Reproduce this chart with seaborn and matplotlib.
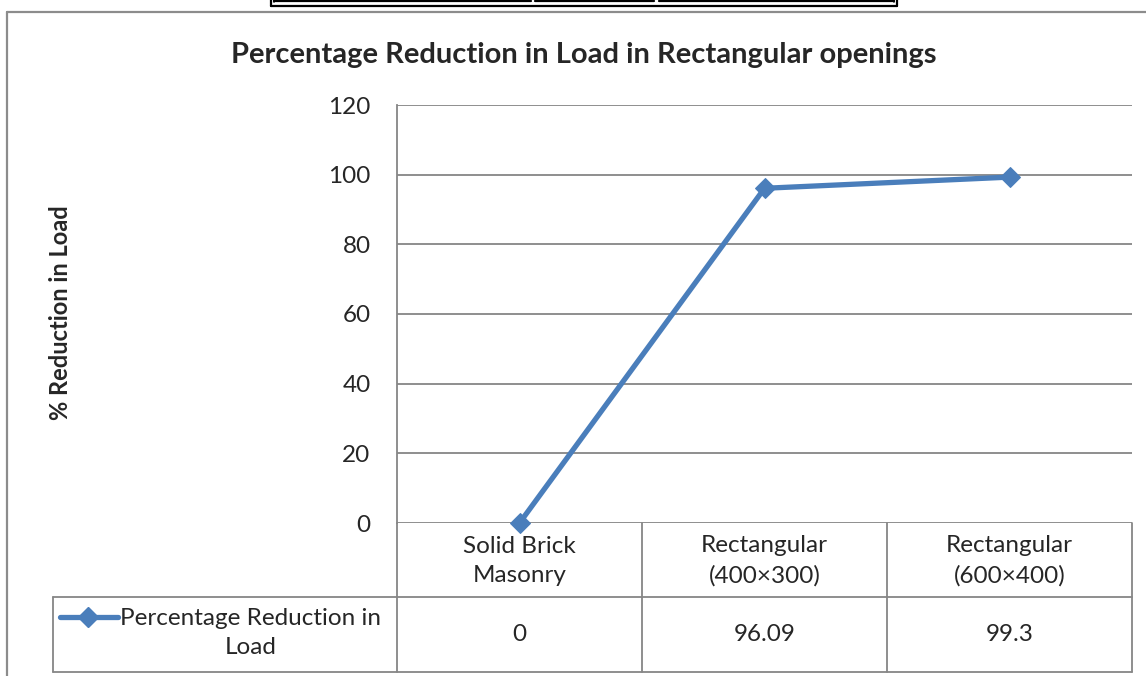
import matplotlib
matplotlib.use("Agg")
import matplotlib.pyplot as plt
import matplotlib.transforms as mtransforms
from matplotlib.lines import Line2D
import pandas as pd
import seaborn as sns

categories = ["Solid Brick\nMasonry", "Rectangular\n(400×300)", "Rectangular\n(600×400)"]
values = [0, 96.09, 99.3]
value_labels = ["0", "96.09", "99.3"]
series_name = "Percentage Reduction in\nLoad"
y_ticks = [0, 20, 40, 60, 80, 100, 120]

sns.set_style("white")
plt.rcParams["font.family"] = ["Lato", "DejaVu Sans"]

W, H = 1146, 676
fig = plt.figure(figsize=(W / 100, H / 100), dpi=100)

# pixel coords (origin top-left) for the frame pieces
pix = mtransforms.Affine2D().scale(1 / W, -1 / H).translate(0, 1) + fig.transFigure

grey = "#868686"
blue = "#4a7ebb"
fs = 17.5

# plot area
left, right, top, bottom = 397, 1132, 105, 523
ax = fig.add_axes([left / W, 1 - bottom / H, (right - left) / W, (bottom - top) / H])

df = pd.DataFrame({"x": range(len(values)), "y": values})
sns.lineplot(data=df, x="x", y="y", ax=ax, color=blue, linewidth=3.8,
             marker="D", markersize=10, markeredgecolor=blue, clip_on=False, zorder=5)

ax.set_xlim(-0.5, len(values) - 0.5)
ax.set_ylim(0, 120)
ax.set_yticks(y_ticks)
ax.set_yticklabels([str(t) for t in y_ticks], fontsize=fs)
ax.set_xticks([])
ax.set_xlabel("")
ax.set_ylabel("")
ax.yaxis.grid(True, color=grey, linewidth=1.3)
ax.tick_params(axis="y", length=0, pad=19)
for s in ["top", "right", "bottom"]:
    ax.spines[s].set_visible(False)
ax.spines["left"].set_color(grey)
ax.spines["left"].set_linewidth(1.3)

# data table under the chart
row1, row2, row3 = 523, 597, 672
mix = mtransforms.blended_transform_factory(ax.transData, pix)
xs = [-0.5 + i for i in range(len(values) + 1)]


def pline(xx, yy, tr=pix, **kw):
    kw.setdefault("color", grey)
    kw.setdefault("linewidth", 1.3)
    fig.add_artist(Line2D(xx, yy, transform=tr, **kw))


for xb in xs:
    pline([xb, xb], [row1, row3], tr=mix)
pline([53, right], [row2, row2])
pline([53, right], [row3, row3])
pline([53, 53], [row2, row3])

for i, (cat, lab) in enumerate(zip(categories, value_labels)):
    fig.text(i, 561, cat, transform=mix, ha="center", va="center",
             fontsize=fs, linespacing=1.5)
    fig.text(i, (row2 + row3) / 2, lab, transform=mix, ha="center", va="center", fontsize=fs)

# legend key in the table
fig.add_artist(Line2D([60, 118], [617, 617], transform=pix, color=blue, linewidth=3.8))
fig.add_artist(Line2D([88], [617], transform=pix, color=blue, marker="D", markersize=10))
fig.text(251, 633, series_name, transform=pix, ha="center", va="center",
         fontsize=fs, linespacing=1.5)

# titles
fig.text(584, 55, "Percentage Reduction in Load in Rectangular openings", transform=pix,
         ha="center", va="center", fontsize=21, fontweight="bold")
fig.text(60, 313, "% Reduction in Load", transform=pix, ha="center", va="center",
         rotation=90, fontsize=17, fontweight="bold")

# chart border
pline([7, W], [12, 12], color="#8c8c8c", linewidth=1.6)
pline([7, 7], [12, H], color="#8c8c8c", linewidth=1.6)

# cut-off table box at the very top
pline([271, 897], [6, 6], color="black", linewidth=1.6)
pline([271, 271], [0, 6], color="black", linewidth=1.6)
pline([897, 897], [0, 6], color="black", linewidth=1.6)
for a, b in [(274, 531), (535, 654), (659, 894)]:
    pline([a, b], [1, 1], color="black", linewidth=1.6)
pline([274, 274], [0, 1.5], color="black", linewidth=1.2)
pline([894, 894], [0, 1.5], color="black", linewidth=1.2)

fig.savefig("out.png", dpi=100)
